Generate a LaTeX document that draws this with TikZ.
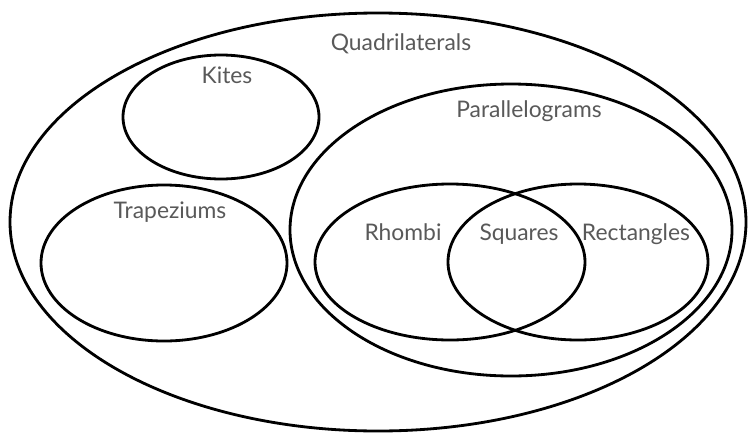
\documentclass[tikz,border=0pt]{standalone}
\usepackage{fontspec}
\setmainfont{Lato}
\begin{document}
\begin{tikzpicture}[x=0.02cm, y=-0.02cm,
    setline/.style={line width=1.6pt},
    setlabel/.style={text=black!65, font=\fontsize{13}{15}\selectfont, inner sep=0pt, anchor=base}]
    \useasboundingbox (0,0) rectangle (750,433);

    % Sets
    \draw[setline] (378,222) ellipse [x radius=368, y radius=209];
    \draw[setline] (221,117) ellipse [x radius=98, y radius=62];
    \draw[setline] (164,263) ellipse [x radius=123, y radius=78];
    \draw[setline] (511,230) ellipse [x radius=221, y radius=146];
    \draw[setline] (450,262) ellipse [x radius=135, y radius=78];
    \draw[setline] (578,262) ellipse [x radius=130, y radius=78];

    % Labels
    \node[setlabel] (quad) at (401,50) {Quadrilaterals};
    \node[setlabel] (kites) at (227,83) {Kites};
    \node[setlabel] (para) at (529,117) {Parallelograms};
    \node[setlabel] (trap) at (170,218) {Trapeziums};
    \node[setlabel] (rhombi) at (403,240) {Rhombi};
    \node[setlabel] (squares) at (519,240) {Squares};
    \node[setlabel] (rect) at (636,240) {Rectangles};
\end{tikzpicture}
\end{document}
